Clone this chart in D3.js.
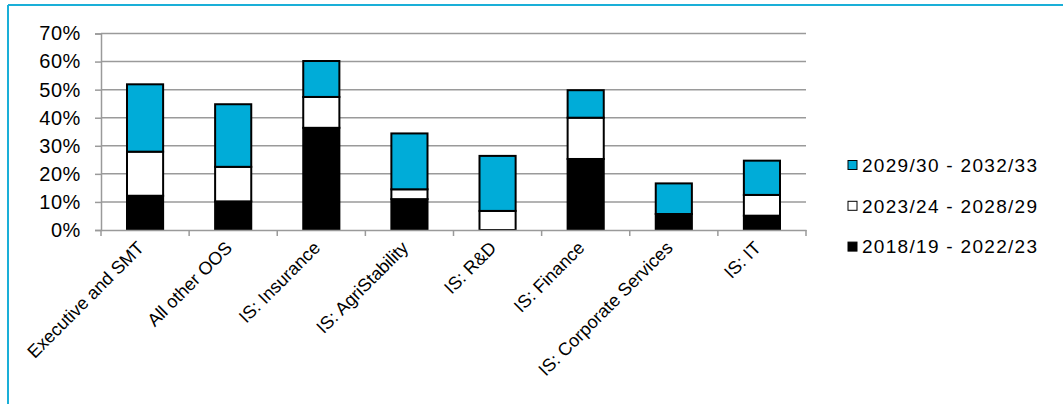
<!DOCTYPE html>
<html>
<head>
<meta charset="utf-8">
<script src="https://cdn.jsdelivr.net/npm/d3@7"></script>
<style>
  html, body { margin: 0; padding: 0; background: #fff; }
  svg { display: block; }
  text { font-family: "Liberation Sans", Arial, Helvetica, sans-serif; fill: #000; }
</style>
</head>
<body>
<svg id="chart" width="1063" height="404"></svg>
<script>
const categories = ["Executive and SMT", "All other OOS", "IS: Insurance", "IS: AgriStability", "IS: R&D", "IS: Finance", "IS: Corporate Services", "IS: IT"];
const seriesNames = ["2018/19 - 2022/23", "2023/24 - 2028/29", "2029/30 - 2032/33"];
const period1 = [12.2, 10.2, 36.4, 11.0, 0.0, 25.3, 5.7, 5.1];
const period2 = [15.7, 12.3, 11.0, 3.5, 6.8, 14.7, 0.0, 7.4];
const period3 = [24.0, 22.3, 12.8, 19.9, 19.6, 9.8, 10.9, 12.2];
const yTicks = [0, 10, 20, 30, 40, 50, 60, 70];
const colors = ["#000000", "#ffffff", "#00acd8"];

const svg = d3.select("#chart");
const W = 1063, H = 404;

// frame (top and left edges in cyan)
svg.append("line").attr("x1", 8).attr("x2", W).attr("y1", 5).attr("y2", 5)
  .attr("stroke", "#1aafd8").attr("stroke-width", 2);
svg.append("line").attr("x1", 8).attr("x2", 8).attr("y1", 5).attr("y2", H)
  .attr("stroke", "#1aafd8").attr("stroke-width", 2);

const m = { left: 101, right: 806, top: 33.5, bottom: 230 };
const x = d3.scaleBand().domain(categories).range([m.left, m.right]).paddingInner(0).paddingOuter(0);
const y = d3.scaleLinear().domain([0, 70]).range([m.bottom, m.top]);

// gridlines
svg.append("g").selectAll("line").data(yTicks.filter(d => d > 0)).join("line")
  .attr("x1", m.left).attr("x2", m.right)
  .attr("y1", d => y(d)).attr("y2", d => y(d))
  .attr("stroke", "#9a9a9a").attr("stroke-width", 1.5);

// y axis
const yAxis = svg.append("g").attr("transform", `translate(${m.left},0)`)
  .call(d3.axisLeft(y).tickValues(yTicks).tickFormat(d => d + "%").tickSize(6).tickPadding(14));
yAxis.select(".domain").attr("stroke", "#9a9a9a").attr("stroke-width", 1.5);
yAxis.selectAll(".tick line").attr("stroke", "#9a9a9a").attr("stroke-width", 1.5);
yAxis.selectAll("text").attr("font-size", 20).attr("letter-spacing", "0.6px")
  .attr("font-family", "Liberation Sans, Arial, sans-serif").attr("fill", "#000");

// stacked data
const table = categories.map((c, i) => ({ cat: c, s0: period1[i], s1: period2[i], s2: period3[i] }));
const stack = d3.stack().keys(["s0", "s1", "s2"]);
const layers = stack(table);

const bw = x.bandwidth() * 0.41;
svg.append("g").selectAll("g").data(layers).join("g")
  .attr("fill", (d, i) => colors[i])
  .selectAll("rect").data(d => d.filter(v => v[1] - v[0] > 0)).join("rect")
  .attr("x", d => x(d.data.cat) + (x.bandwidth() - bw) / 2)
  .attr("width", bw)
  .attr("y", d => y(d[1]))
  .attr("height", d => y(d[0]) - y(d[1]))
  .attr("stroke", "#000").attr("stroke-width", 2);

// x axis
const xAxis = svg.append("g").attr("transform", `translate(0,${m.bottom})`)
  .call(d3.axisBottom(x).tickSize(0).tickFormat(""));
xAxis.select(".domain").attr("stroke", "#9a9a9a").attr("stroke-width", 1.5);
xAxis.selectAll(".tick").remove();
const bounds = categories.map(c => x(c)).concat([m.right]);
svg.append("g").selectAll("line").data(bounds).join("line")
  .attr("x1", d => d).attr("x2", d => d)
  .attr("y1", m.bottom).attr("y2", m.bottom + 6)
  .attr("stroke", "#9a9a9a").attr("stroke-width", 1.5);

// category labels
svg.append("g").selectAll("text").data(categories).join("text")
  .attr("transform", d => `translate(${x(d) + x.bandwidth() / 2 + 0},${m.bottom + 19}) rotate(-45)`)
  .attr("text-anchor", "end")
  .attr("font-size", 18)
  .text(d => d);

// legend
const legendOrder = [2, 1, 0];
const lg = svg.append("g").selectAll("g").data(legendOrder).join("g")
  .attr("transform", (d, i) => `translate(848,${165 + i * 40.8})`);
lg.append("rect").attr("x", 0).attr("y", -4.5).attr("width", 9).attr("height", 9)
  .attr("fill", d => colors[d]).attr("stroke", "#000").attr("stroke-width", 1);
lg.append("text").attr("x", 14).attr("y", 0).attr("dy", "0.36em")
  .attr("font-size", 19).attr("letter-spacing", "1.3px").text(d => seriesNames[d]);
</script>
</body>
</html>
